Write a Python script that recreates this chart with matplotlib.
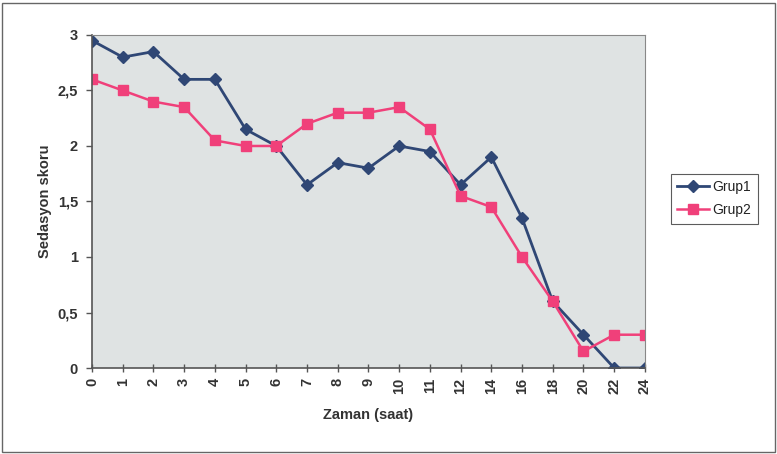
import matplotlib
matplotlib.use("Agg")
import matplotlib.pyplot as plt
from matplotlib.patches import Rectangle

categories = ["0", "1", "2", "3", "4", "5", "6", "7", "8", "9", "10", "11", "12", "14", "16", "18", "20", "22", "24"]
grup1 = [2.95, 2.8, 2.85, 2.6, 2.6, 2.15, 2.0, 1.65, 1.85, 1.8, 2.0, 1.95, 1.65, 1.9, 1.35, 0.6, 0.3, 0.0, 0.0]
grup2 = [2.6, 2.5, 2.4, 2.35, 2.05, 2.0, 2.0, 2.2, 2.3, 2.3, 2.35, 2.15, 1.55, 1.45, 1.0, 0.6, 0.15, 0.3, 0.3]
yticks = [0, 0.5, 1, 1.5, 2, 2.5, 3]
ytick_labels = ["0", "0,5", "1", "1,5", "2", "2,5", "3"]

plt.rcParams['font.family'] = ['Liberation Sans', 'DejaVu Sans']

fig = plt.figure(figsize=(7.77, 4.54), dpi=100)
fig.patch.set_facecolor('white')
fig.patches.append(Rectangle((0.003, 0.004), 0.994, 0.99, transform=fig.transFigure,
                             fill=False, edgecolor='#666666', linewidth=1.0))

ax = fig.add_axes([0.1184, 0.1894, 0.7116, 0.7336])
ax.set_facecolor('#dfe3e3')
x = list(range(len(categories)))
ax.plot(x, grup1, color='#2f4775', marker='D', markersize=6.5, linewidth=2, label='Grup1')
ax.plot(x, grup2, color='#f0407a', marker='s', markersize=7, linewidth=1.8, label='Grup2')

ax.set_xlim(0, len(categories) - 1)
ax.set_ylim(0, 3)
ax.set_xticks(x)
ax.set_xticklabels(categories, rotation=90, fontsize=10.5, fontweight='bold', color='#333333')
ax.set_yticks(yticks)
ax.set_yticklabels(ytick_labels, fontsize=10.5, fontweight='bold', color='#333333')
ax.tick_params(axis='x', direction='inout', length=6, width=1, color='#555555', pad=4)
ax.tick_params(axis='y', direction='out', length=4, width=1, color='#555555', pad=6)
for side in ['left', 'bottom']:
    ax.spines[side].set_color('#555555')
    ax.spines[side].set_linewidth(1.2)
for side in ['top', 'right']:
    ax.spines[side].set_color('#888888')
    ax.spines[side].set_linewidth(0.8)

ax.set_xlabel('Zaman (saat)', fontsize=10.5, fontweight='bold', color='#333333', labelpad=10)
ax.set_ylabel('Sedasyon skoru', fontsize=10.5, fontweight='bold', color='#333333', labelpad=4)

leg = fig.legend(loc='upper left', bbox_to_anchor=(671/777, 1 - 174/454), fontsize=10,
                 frameon=True, fancybox=False, edgecolor='#333333', handlelength=2.3,
                 borderpad=0.45, labelspacing=0.65, handletextpad=0.25, borderaxespad=0)
leg.get_frame().set_linewidth(0.8)
for t in leg.get_texts():
    t.set_color('#222222')

fig.savefig('out.png', dpi=100)
